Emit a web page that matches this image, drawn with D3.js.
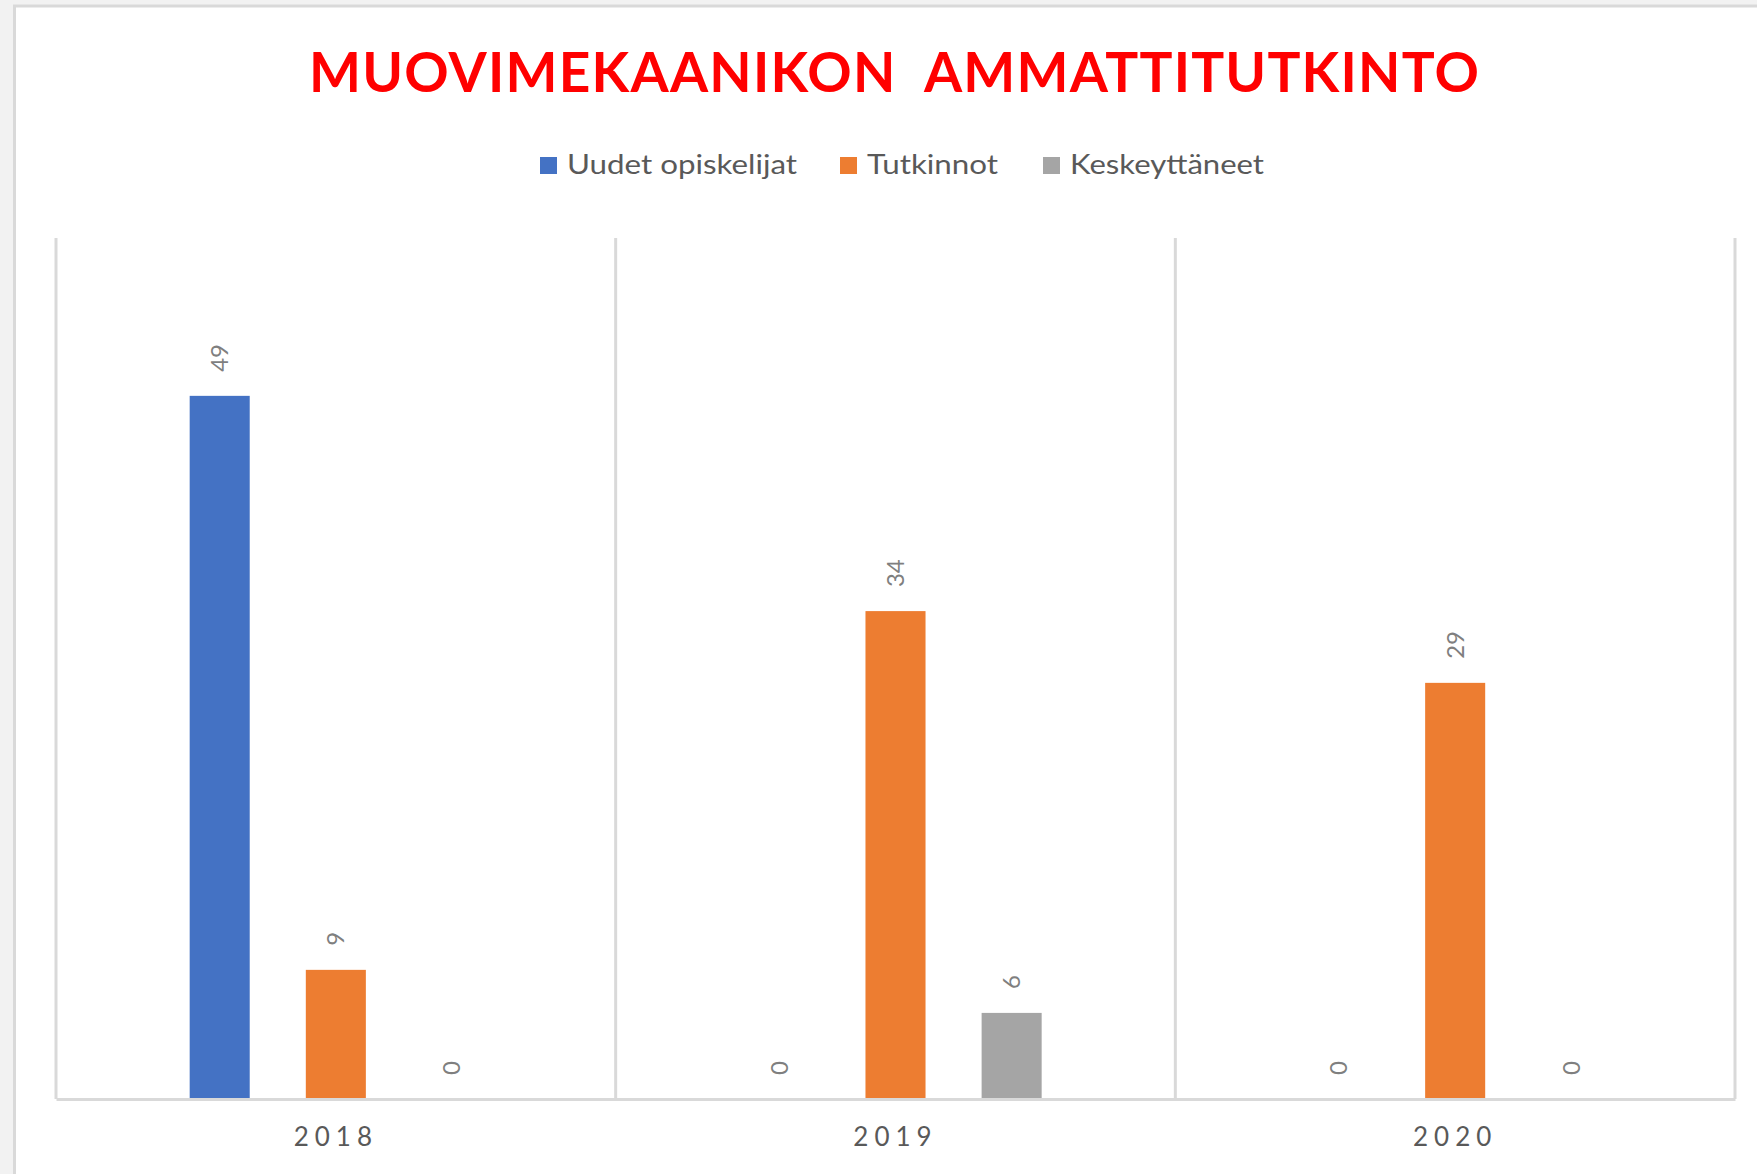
<!DOCTYPE html>
<html>
<head>
<meta charset="utf-8">
<script src="https://cdn.jsdelivr.net/npm/d3@7"></script>
<style>
  html, body { margin: 0; padding: 0; background: #f2f2f2; }
  svg { display: block; }
</style>
</head>
<body>
<svg id="chart"></svg>
<script>
// data
const years = ['2018', '2019', '2020']
const seriesNames = ['Uudet opiskelijat', 'Tutkinnot', 'Keskeyttäneet']
const uudet = [49, 0, 0]
const tutkinnot = [9, 34, 29]
const keskeyttaneet = [0, 6, 0]
const seriesColors = ['#4472C4', '#ED7D31', '#A5A5A5']

const width = 1757
const height = 1174
const svg = d3.select('#chart').attr('width', width).attr('height', height)

// chart frame
svg.append('rect').attr('width', width).attr('height', height).attr('fill', '#f2f2f2')
svg.append('rect')
  .attr('x', 14.5).attr('y', 6)
  .attr('width', width).attr('height', height)
  .attr('fill', '#fff')
  .attr('stroke', '#d9d9d9')
  .attr('stroke-width', 3)

const plot = { left: 56, right: 1735, top: 238, bottom: 1099 }

const x0 = d3.scaleBand().domain(years).range([plot.left, plot.right])
const x1 = d3.scaleBand()
  .domain(seriesNames)
  .range([0, x0.bandwidth()])
  .paddingInner(0.483)
  .paddingOuter(1.151)
const y = d3.scaleLinear().domain([0, 60]).range([plot.bottom, plot.top])

const rows = years.map((yr, i) => ({
  year: yr,
  values: [uudet[i], tutkinnot[i], keskeyttaneet[i]].map((v, j) => ({ key: seriesNames[j], value: v, color: seriesColors[j] }))
}))

// vertical separators between categories
const edges = years.map(d => x0(d)).concat([plot.right])
svg.append('g')
  .selectAll('line')
  .data(edges)
  .join('line')
  .attr('x1', d => d).attr('x2', d => d)
  .attr('y1', plot.top).attr('y2', plot.bottom)
  .attr('stroke', '#d9d9d9')
  .attr('stroke-width', 3)

// bars
const groups = svg.append('g')
  .selectAll('g')
  .data(rows)
  .join('g')
  .attr('transform', d => `translate(${x0(d.year)},0)`)

groups.selectAll('rect')
  .data(d => d.values)
  .join('rect')
  .attr('x', d => x1(d.key))
  .attr('y', d => y(d.value))
  .attr('width', x1.bandwidth())
  .attr('height', d => y(0) - y(d.value))
  .attr('fill', d => d.color)

// value labels, rotated
groups.selectAll('text')
  .data(d => d.values)
  .join('text')
  .attr('transform', d => `translate(${x1(d.key) + x1.bandwidth() / 2},${y(d.value) - 24}) rotate(-90)`)
  .attr('dy', '0.35em')
  .attr('text-anchor', 'start')
  .attr('font-family', 'Lato, sans-serif')
  .attr('font-size', 24)
  .attr('fill', '#7f7f7f')
  .text(d => d.value)

// x axis
const xAxis = svg.append('g')
  .attr('transform', `translate(0,${plot.bottom})`)
  .call(d3.axisBottom(x0).tickSize(0).tickPadding(29))
xAxis.select('.domain').attr('stroke', '#d9d9d9').attr('stroke-width', 3)
xAxis.selectAll('text')
  .attr('font-family', 'Lato, sans-serif')
  .attr('font-size', 26)
  .attr('fill', '#595959')
  .attr('letter-spacing', '6px')

// title
svg.append('text')
  .attr('x', 894).attr('y', 92)
  .attr('text-anchor', 'middle')
  .attr('font-family', 'Lato, sans-serif')
  .attr('font-weight', 'bold')
  .attr('font-size', 55)
  .attr('fill', '#ff0000')
  .attr('textLength', 1170)
  .attr('lengthAdjust', 'spacing')
  .style('white-space', 'pre')
  .text('MUOVIMEKAANIKON  AMMATTITUTKINTO')

// legend
const legendX = [540, 840, 1043]
const legendW = [230, 131, 194]
const legend = svg.append('g')
  .selectAll('g')
  .data(seriesNames)
  .join('g')
  .attr('transform', (d, i) => `translate(${legendX[i]},165)`)
legend.append('rect')
  .attr('x', 0).attr('y', -8)
  .attr('width', 17).attr('height', 17)
  .attr('fill', (d, i) => seriesColors[i])
legend.append('text')
  .attr('x', 27).attr('y', 0)
  .attr('dy', '0.35em')
  .attr('font-family', 'Lato, sans-serif')
  .attr('font-size', 27)
  .attr('fill', '#595959')
  .attr('textLength', (d, i) => legendW[i])
  .attr('lengthAdjust', 'spacingAndGlyphs')
  .text(d => d)
</script>
</body>
</html>
